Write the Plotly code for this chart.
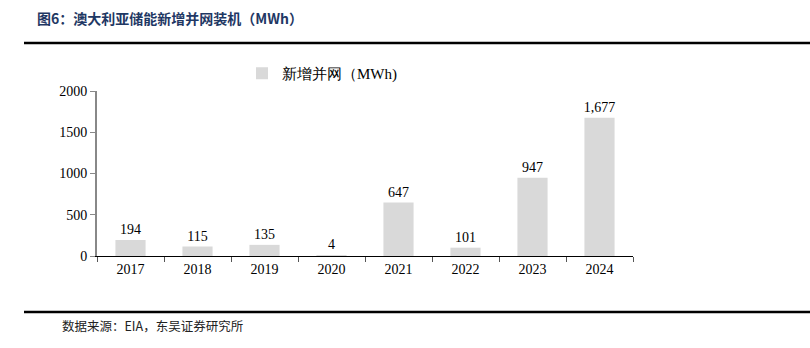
import plotly.graph_objects as go

years = ["2017", "2018", "2019", "2020", "2021", "2022", "2023", "2024"]
values = [194, 115, 135, 4, 647, 101, 947, 1677]
series_name = "新增并网（MWh)"
title_text = "图6：澳大利亚储能新增并网装机（MWh）"
source_text = "数据来源：EIA，东吴证券研究所"

W, H = 810, 348
L, R, T, B = 97, 177, 91, 92
pw, ph = W - L - R, H - T - B

def px(x):
    return (x - L) / pw

def py(y):
    return (H - B - y) / ph

serif = "Liberation Serif, Times New Roman, serif"

fig = go.Figure()
fig.add_trace(go.Bar(
    x=years, y=values, name=series_name,
    marker=dict(color="#d9d9d9", line=dict(width=0)),
    width=0.45,
    text=[f"{v:,}" for v in values], textposition="outside",
    textfont=dict(family=serif, size=14, color="#000000"),
    constraintext="none",
    cliponaxis=False,
    showlegend=True,
))

fig.update_layout(
    width=W, height=H,
    margin=dict(l=L, r=R, t=T, b=B),
    paper_bgcolor="white", plot_bgcolor="white",
    font=dict(family=serif, size=14, color="#000000"),
    showlegend=True,
    legend=dict(x=px(242), y=py(57), xanchor="left", yanchor="top",
                orientation="h", font=dict(family=serif, size=15, color="#000"),
                bgcolor="rgba(0,0,0,0)", itemwidth=30),
    xaxis=dict(showline=True, linecolor="#000000", linewidth=1,
               ticks="outside", tickson="boundaries", ticklen=5, tickcolor="#555555",
               tickfont=dict(family=serif, size=14), showgrid=False),
    yaxis=dict(range=[0, 2000], tickvals=[0, 500, 1000, 1500, 2000],
               showline=True, linecolor="#888888", linewidth=2,
               ticks="outside", ticklen=5, tickcolor="#888888",
               tickfont=dict(family=serif, size=14), showgrid=False, zeroline=False),
    bargap=0.55,
)

fig.add_annotation(x=px(35), y=py(18), xref="paper", yref="paper",
                   xanchor="left", yanchor="middle", showarrow=False,
                   text=f"<b>{title_text}</b>",
                   font=dict(family="Noto Sans CJK SC", size=14, color="#1f3864"))
fig.add_annotation(x=px(60), y=py(325), xref="paper", yref="paper",
                   xanchor="left", yanchor="middle", showarrow=False,
                   text=source_text,
                   font=dict(family="Noto Sans CJK SC", size=12.5, color="#222222"))
fig.add_shape(type="line", xref="paper", yref="paper",
              x0=px(24), x1=px(810), y0=py(43), y1=py(43),
              line=dict(color="#000000", width=2.5))
fig.add_shape(type="line", xref="paper", yref="paper",
              x0=px(24), x1=px(810), y0=py(312), y1=py(312),
              line=dict(color="#000000", width=2.5))

fig.write_html("out.html")
